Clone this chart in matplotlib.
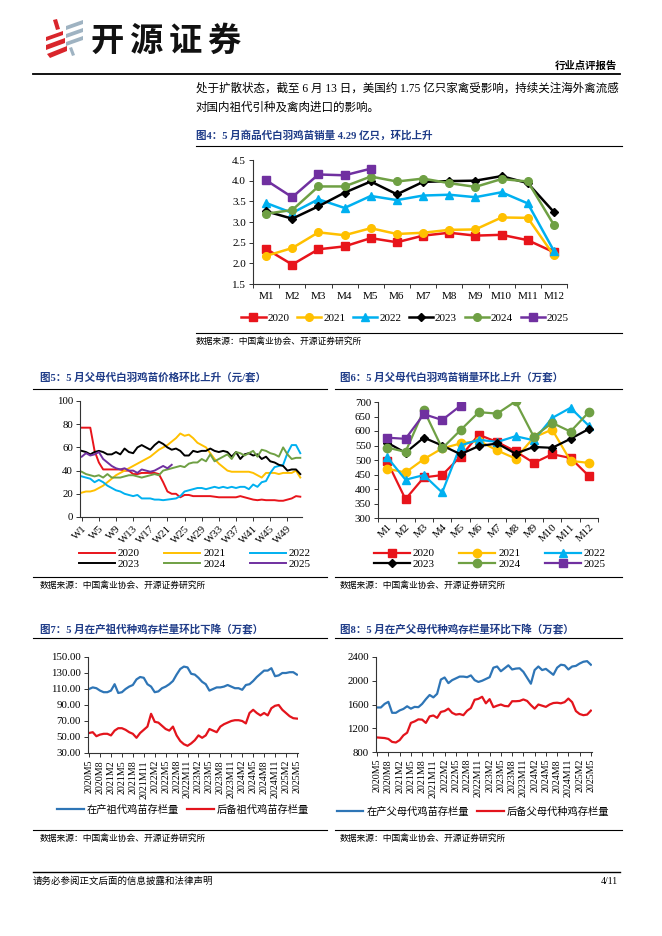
import numpy as np
import matplotlib
matplotlib.use('Agg')
import matplotlib.pyplot as plt
from matplotlib.lines import Line2D
from matplotlib.patches import Polygon

plt.rcParams['font.family'] = ['Liberation Serif', 'Noto Sans CJK SC']
plt.rcParams['axes.unicode_minus'] = False

# ---------------- data ----------------
months = ['M1', 'M2', 'M3', 'M4', 'M5', 'M6', 'M7', 'M8', 'M9', 'M10', 'M11', 'M12']
years = ['2020', '2021', '2022', '2023', '2024', '2025']

# 图4 商品代白羽鸡苗销量 (亿只)
sales_2020 = [2.35, 1.97, 2.34, 2.41, 2.61, 2.51, 2.67, 2.74, 2.67, 2.69, 2.56, 2.27]
sales_2021 = [2.18, 2.37, 2.75, 2.68, 2.85, 2.71, 2.74, 2.81, 2.82, 3.11, 3.10, 2.19]
sales_2022 = [3.46, 3.22, 3.55, 3.34, 3.63, 3.53, 3.64, 3.66, 3.60, 3.72, 3.45, 2.30]
sales_2023 = [3.26, 3.08, 3.38, 3.71, 3.98, 3.67, 3.97, 3.99, 4.00, 4.11, 3.94, 3.24]
sales_2024 = [3.20, 3.29, 3.86, 3.86, 4.10, 3.98, 4.05, 3.94, 3.85, 4.04, 3.98, 2.93]
sales_2025 = [4.01, 3.60, 4.15, 4.13, 4.29]

# 图5 父母代白羽鸡苗价格 (元/套), 周度
price_2020 = [77, 77, 77, 57, 47, 41, 41, 41, 41, 41, 40, 40, 37, 37, 38, 38, 38, 38, 37, 30,
              22, 20, 20, 17, 19, 19, 18, 18, 18, 18, 18, 17.5, 17, 17, 17, 17, 17, 18, 17, 16,
              15, 14.5, 15, 14.5, 14.5, 14.5, 14, 14, 15, 16, 18, 17.5]
price_2021 = [21, 22, 22, 23, 25, 27, 30, 33, 36, 38, 40, 42, 44, 46, 48, 50, 52, 55, 58, 60,
              62, 65, 68, 72, 70, 71, 68, 64, 62, 60, 55, 50, 46, 43, 40, 39, 39, 39, 39, 39,
              38, 36, 34, 38, 38, 38, 37, 38, 38, 38, 40, 34]
price_2022 = [35, 34, 33, 30, 32, 30, 27, 25, 23, 22, 20, 19, 18, 19, 16, 16, 16, 15, 15, 14.5,
              15, 15.5, 16, 18, 22, 23, 24, 25, 25, 24, 25, 26, 25, 26, 25, 26, 25, 26, 26, 24,
              28, 26, 30, 31, 38, 43, 44, 45, 55, 62, 62, 55]
price_2023 = [57, 56, 54, 56, 57, 56, 54, 54, 56, 54, 59, 56, 55, 60, 62, 60, 58, 62, 65, 63,
              60, 58, 59, 57, 53, 53, 57, 56, 57, 57, 59, 57, 56, 57, 56, 52, 56, 50, 54, 55,
              53, 54, 50, 52, 48, 47, 45, 44, 40, 41, 41, 37]
price_2024 = [39, 37, 36, 35, 36, 34, 37, 34, 34, 34, 35, 36, 36, 35, 34, 35, 36, 37, 36, 40,
              41, 42, 43, 44, 43, 46, 47, 47, 50, 48, 54, 48, 50, 52, 54, 50, 56, 55, 53, 55,
              57, 52, 58, 57, 55, 54, 52, 60, 54, 50, 51, 51]
price_2025 = [52, 55, 53, 54, 56, 50, 47, 44, 42, 41, 42, 40, 40, 38, 41, 40, 39, 40, 42, 44,
              42, 45]

# 图6 父母代白羽鸡苗销量 (万套)
ps_2020 = [495, 365, 440, 448, 512, 587, 562, 530, 490, 520, 507, 445]
ps_2021 = [470, 457, 503, 540, 557, 566, 533, 505, 578, 605, 497, 490]
ps_2022 = [510, 432, 448, 388, 550, 570, 562, 582, 568, 645, 680, 618]
ps_2023 = [560, 525, 577, 550, 520, 548, 557, 522, 545, 542, 573, 607]
ps_2024 = [543, 528, 672, 540, 603, 665, 660, 702, 580, 628, 598, 665]
ps_2025 = [577, 573, 658, 638, 687]

# 图7/图8 月度存栏
month_labels = ['2020M5', '2020M8', '2021M2', '2021M5', '2021M8', '2021M11', '2022M2',
                '2022M5', '2022M8', '2022M11', '2023M2', '2023M5', '2023M8', '2023M11',
                '2024M2', '2024M5', '2024M8', '2024M11', '2025M2', '2025M5']
gp_laying = [110, 112, 111, 108, 106, 106, 108, 116, 105, 106, 110, 113, 115, 122, 125, 124,
             116, 113, 106, 107, 111, 113, 116, 120, 128, 135, 138, 137, 129, 128, 124, 119,
             116, 108, 110, 112, 112, 113, 115, 113, 111, 111, 109, 115, 116, 120, 125, 129,
             133, 133, 136, 126, 127, 130, 130, 131, 131, 128]
gp_reserve = [55, 56, 51, 53, 54, 54, 52, 58, 61, 61, 59, 56, 54, 49, 55, 59, 63, 79, 69, 68,
              64, 60, 58, 63, 52, 45, 41, 39, 42, 46, 52, 49, 52, 60, 58, 56, 63, 66, 68, 70,
              71, 71, 70, 67, 80, 84, 80, 77, 80, 77, 86, 89, 90, 84, 80, 76, 73.5, 73]
pp_laying = [1550, 1550, 1610, 1645, 1460, 1460, 1500, 1525, 1570, 1530, 1560, 1555, 1610,
             1690, 1760, 1720, 1780, 2020, 2055, 1960, 2010, 2040, 2070, 2070, 2060, 2090,
             2010, 1980, 2000, 2030, 2060, 2220, 2240, 2160, 2210, 2260, 2190, 2205, 2210,
             2150, 2050, 1950, 2180, 2240, 2180, 2200, 2150, 2100, 2220, 2270, 2260, 2190,
             2240, 2250, 2290, 2320, 2330, 2270]
pp_reserve = [1045, 1040, 1035, 1020, 970, 960, 1000, 1080, 1125, 1290, 1315, 1350, 1345,
              1290, 1400, 1415, 1375, 1475, 1490, 1530, 1460, 1430, 1440, 1420, 1495, 1540,
              1680, 1695, 1730, 1620, 1690, 1555, 1580, 1600, 1575, 1570, 1655, 1655, 1660,
              1685, 1660, 1590, 1530, 1600, 1580, 1560, 1600, 1625, 1630, 1620, 1640, 1700,
              1640, 1490, 1440, 1420, 1430, 1497]

# ---------------- layout helpers ----------------
W, H = 662, 936
fig = plt.figure(figsize=(W / 100, H / 100), dpi=100)
fig.patch.set_facecolor('white')


def fx(x):
    return x / W


def fy(y):
    return 1 - y / H


def rect(x0, y0, x1, y1):
    return [x0 / W, 1 - y1 / H, (x1 - x0) / W, (y1 - y0) / H]


def hline(x0, x1, y, lw=0.8, color='black'):
    fig.add_artist(Line2D([fx(x0), fx(x1)], [fy(y), fy(y)], transform=fig.transFigure,
                          color=color, lw=lw))


def text(x, y, s, size=8, **kw):
    fig.text(fx(x), fy(y), s, fontsize=size, va='center', **kw)


navy = '#1F3C88'
colors = {'2020': '#E8141B', '2021': '#FFC000', '2022': '#00B0F0',
          '2023': '#000000', '2024': '#6FA044', '2025': '#7030A0'}
markers = {'2020': 's', '2021': 'o', '2022': '^', '2023': 'D', '2024': 'o', '2025': 's'}
msizes = {'2020': 5.5, '2021': 5.5, '2022': 5.5, '2023': 4, '2024': 5.5, '2025': 5.5}


def style_axes(ax, size=8):
    for s in ['top', 'right']:
        ax.spines[s].set_visible(False)
    for s in ['left', 'bottom']:
        ax.spines[s].set_linewidth(0.8)
        ax.spines[s].set_color('#333333')
    ax.tick_params(labelsize=size, length=3, width=0.7, color='#333333', pad=2)
    ax.set_facecolor('none')


# ---------------- header ----------------
red_logo = '#D9252B'
grey_logo = '#9FB3C2'
for pts in [[(53, 20), (57, 19), (60, 29), (56, 30)],
            [(46, 37), (63, 31), (63, 35), (46, 41)],
            [(46, 45), (65, 38), (65, 43), (46, 50)],
            [(47, 54), (67, 46), (67, 51), (50, 58)]]:
    fig.add_artist(Polygon([(fx(a), fy(b)) for a, b in pts], closed=True,
                           transform=fig.transFigure, color=red_logo, lw=0))
for pts in [[(66, 26), (83, 20), (83, 24), (66, 30)],
            [(66, 34), (83, 28), (83, 32), (66, 38)],
            [(66, 42), (83, 36), (83, 40), (66, 46)],
            [(69, 48), (72, 47), (75, 55), (72, 56)]]:
    fig.add_artist(Polygon([(fx(a), fy(b)) for a, b in pts], closed=True,
                           transform=fig.transFigure, color=grey_logo, lw=0))
for i, ch in enumerate('开源证券'):
    text(107 + 39 * i, 41, ch, size=24, ha='center', weight='bold', color='#111111',
         family=['Noto Sans CJK SC'])
text(617, 66, '行业点评报告', size=7.5, ha='right', weight='bold')
hline(33, 620, 74, lw=1.3)

text(196, 89, '处于扩散状态，截至 6 月 13 日，美国约 1.75 亿只家禽受影响，持续关注海外禽流感', size=8.3)
text(196, 108, '对国内祖代引种及禽肉进口的影响。', size=8.3)

# ---------------- 图4 ----------------
text(196, 135, '图4：5 月商品代白羽鸡苗销量 4.29 亿只，环比上升', size=7.6, weight='bold', color=navy)
hline(196, 622, 146)
ax4 = fig.add_axes(rect(253, 160, 567, 284))
series4 = [sales_2020, sales_2021, sales_2022, sales_2023, sales_2024, sales_2025]
handles4 = []
for yr, vals in zip(years, series4):
    h, = ax4.plot(range(len(vals)), vals, color=colors[yr], lw=1.8, marker=markers[yr],
                  ms=msizes[yr], label=yr)
    handles4.append(h)
ax4.set_xlim(-0.5, 11.5)
ax4.set_ylim(1.5, 4.5)
ax4.set_yticks(np.arange(1.5, 4.51, 0.5))
ax4.set_yticklabels(['%.1f' % v for v in np.arange(1.5, 4.51, 0.5)])
ax4.set_xticks(range(12))
ax4.set_xticklabels(months)
ax4.set_xticks(np.arange(-0.5, 12, 1), minor=True)
style_axes(ax4, 8)
ax4.tick_params(axis='x', which='major', length=0, pad=6)
ax4.tick_params(axis='x', which='minor', length=3, width=0.7, color='#333333')
fig.legend(handles=handles4, loc='center', bbox_to_anchor=(fx(405), fy(318)), ncol=6,
           frameon=False, fontsize=8, handlelength=2.2, columnspacing=0.7, handletextpad=0.15)
hline(196, 622, 333)
text(196, 341, '数据来源：中国禽业协会、开源证券研究所', size=6.3)

# ---------------- 图5 ----------------
text(40, 377, '图5：5 月父母代白羽鸡苗价格环比上升（元/套）', size=7.6, weight='bold', color=navy)
hline(33, 327, 389)
ax5 = fig.add_axes(rect(80, 401, 302, 517))
series5 = [price_2020, price_2021, price_2022, price_2023, price_2024, price_2025]
handles5 = {}
for yr, vals in zip(years, series5):
    h, = ax5.plot(range(1, len(vals) + 1), vals, color=colors[yr], lw=1.4, label=yr)
    handles5[yr] = h
ax5.set_xlim(0.6, 52.4)
ax5.set_ylim(0, 100)
ax5.set_yticks(range(0, 101, 20))
wk = list(range(1, 53, 4))
ax5.set_xticks(wk)
ax5.set_xticklabels(['W%d' % w for w in wk], rotation=45, ha='right', rotation_mode='anchor')
style_axes(ax5, 7.8)
order = ['2020', '2023', '2021', '2024', '2022', '2025']
fig.legend(handles=[handles5[k] for k in order], loc='center', bbox_to_anchor=(fx(195), fy(559)),
           ncol=3, frameon=False, fontsize=8, handlelength=3.2, columnspacing=2.2,
           handletextpad=0.3, labelspacing=0.1)
hline(33, 327, 577)
text(40, 585, '数据来源：中国禽业协会、开源证券研究所', size=6.3)

# ---------------- 图6 ----------------
text(340, 377, '图6：5 月父母代白羽鸡苗销量环比上升（万套）', size=7.6, weight='bold', color=navy)
hline(335, 622, 389)
ax6 = fig.add_axes(rect(378, 402, 598, 518))
series6 = [ps_2020, ps_2021, ps_2022, ps_2023, ps_2024, ps_2025]
handles6 = {}
for yr, vals in zip(years, series6):
    h, = ax6.plot(range(len(vals)), vals, color=colors[yr], lw=1.6, marker=markers[yr],
                  ms=msizes[yr] + 0.5, label=yr)
    handles6[yr] = h
ax6.set_xlim(-0.5, 11.5)
ax6.set_ylim(300, 700)
ax6.set_yticks(range(300, 701, 50))
ax6.set_xticks(range(12))
ax6.set_xticklabels(months, rotation=45, ha='right', rotation_mode='anchor')
ax6.set_xticks(np.arange(-0.5, 12, 1), minor=True)
style_axes(ax6, 7.8)
ax6.tick_params(axis='x', which='major', length=0, pad=3)
ax6.tick_params(axis='x', which='minor', length=3, width=0.7, color='#333333')
fig.legend(handles=[handles6[k] for k in order], loc='center', bbox_to_anchor=(fx(490), fy(559)),
           ncol=3, frameon=False, fontsize=8, handlelength=3.2, columnspacing=2.2,
           handletextpad=0.3, labelspacing=0.1)
hline(335, 622, 577)
text(340, 585, '数据来源：中国禽业协会、开源证券研究所', size=6.3)

# ---------------- 图7 ----------------
blue7 = '#2E75B6'
red7 = '#E3141C'
text(40, 629, '图7：5 月在产祖代种鸡存栏量环比下降（万套）', size=7.6, weight='bold', color=navy)
hline(33, 327, 638)
ax7 = fig.add_axes(rect(88, 657, 298, 753))
idx = np.arange(len(gp_laying))
h71, = ax7.plot(idx, gp_laying, color=blue7, lw=1.6, label='在产祖代鸡苗存栏量')
h72, = ax7.plot(idx, gp_reserve, color=red7, lw=1.6, label='后备祖代鸡苗存栏量')
ax7.set_xlim(-0.3, len(idx) - 0.7)
ax7.set_ylim(30, 150)
ax7.set_yticks(range(30, 151, 20))
ax7.set_yticklabels(['%.2f' % v for v in range(30, 151, 20)])
ax7.set_xticks(range(0, len(idx), 3))
ax7.set_xticklabels(month_labels, rotation=90)
style_axes(ax7, 7.8)
ax7.tick_params(axis='x', labelsize=7.2)
fig.legend(handles=[h71, h72], loc='center', bbox_to_anchor=(fx(183), fy(810)), ncol=2,
           frameon=False, fontsize=7.4, handlelength=2.6, columnspacing=0.8, handletextpad=0.3)
hline(33, 327, 830)
text(40, 838, '数据来源：中国禽业协会、开源证券研究所', size=6.3)

# ---------------- 图8 ----------------
text(340, 629, '图8：5 月在产父母代种鸡存栏量环比下降（万套）', size=7.6, weight='bold', color=navy)
hline(335, 622, 638)
ax8 = fig.add_axes(rect(376, 657, 592, 752))
h81, = ax8.plot(idx, pp_laying, color=blue7, lw=1.6, label='在产父母代鸡苗存栏量')
h82, = ax8.plot(idx, pp_reserve, color=red7, lw=1.6, label='后备父母代种鸡存栏量')
ax8.set_xlim(-0.3, len(idx) - 0.7)
ax8.set_ylim(800, 2400)
ax8.set_yticks(range(800, 2401, 400))
ax8.set_xticks(range(0, len(idx), 3))
ax8.set_xticklabels(month_labels, rotation=90)
style_axes(ax8, 7.8)
ax8.tick_params(axis='x', labelsize=7.2)
fig.legend(handles=[h81, h82], loc='center', bbox_to_anchor=(fx(473), fy(812)), ncol=2,
           frameon=False, fontsize=7.4, handlelength=2.6, columnspacing=0.8, handletextpad=0.3)
hline(335, 622, 830)
text(340, 838, '数据来源：中国禽业协会、开源证券研究所', size=6.3)

# ---------------- footer ----------------
hline(33, 620, 872, lw=1.0)
text(33, 881, '请务必参阅正文后面的信息披露和法律声明', size=6.8)
text(618, 881, '4/11', size=7, ha='right')

fig.savefig('out.png', dpi=100, facecolor='white')
